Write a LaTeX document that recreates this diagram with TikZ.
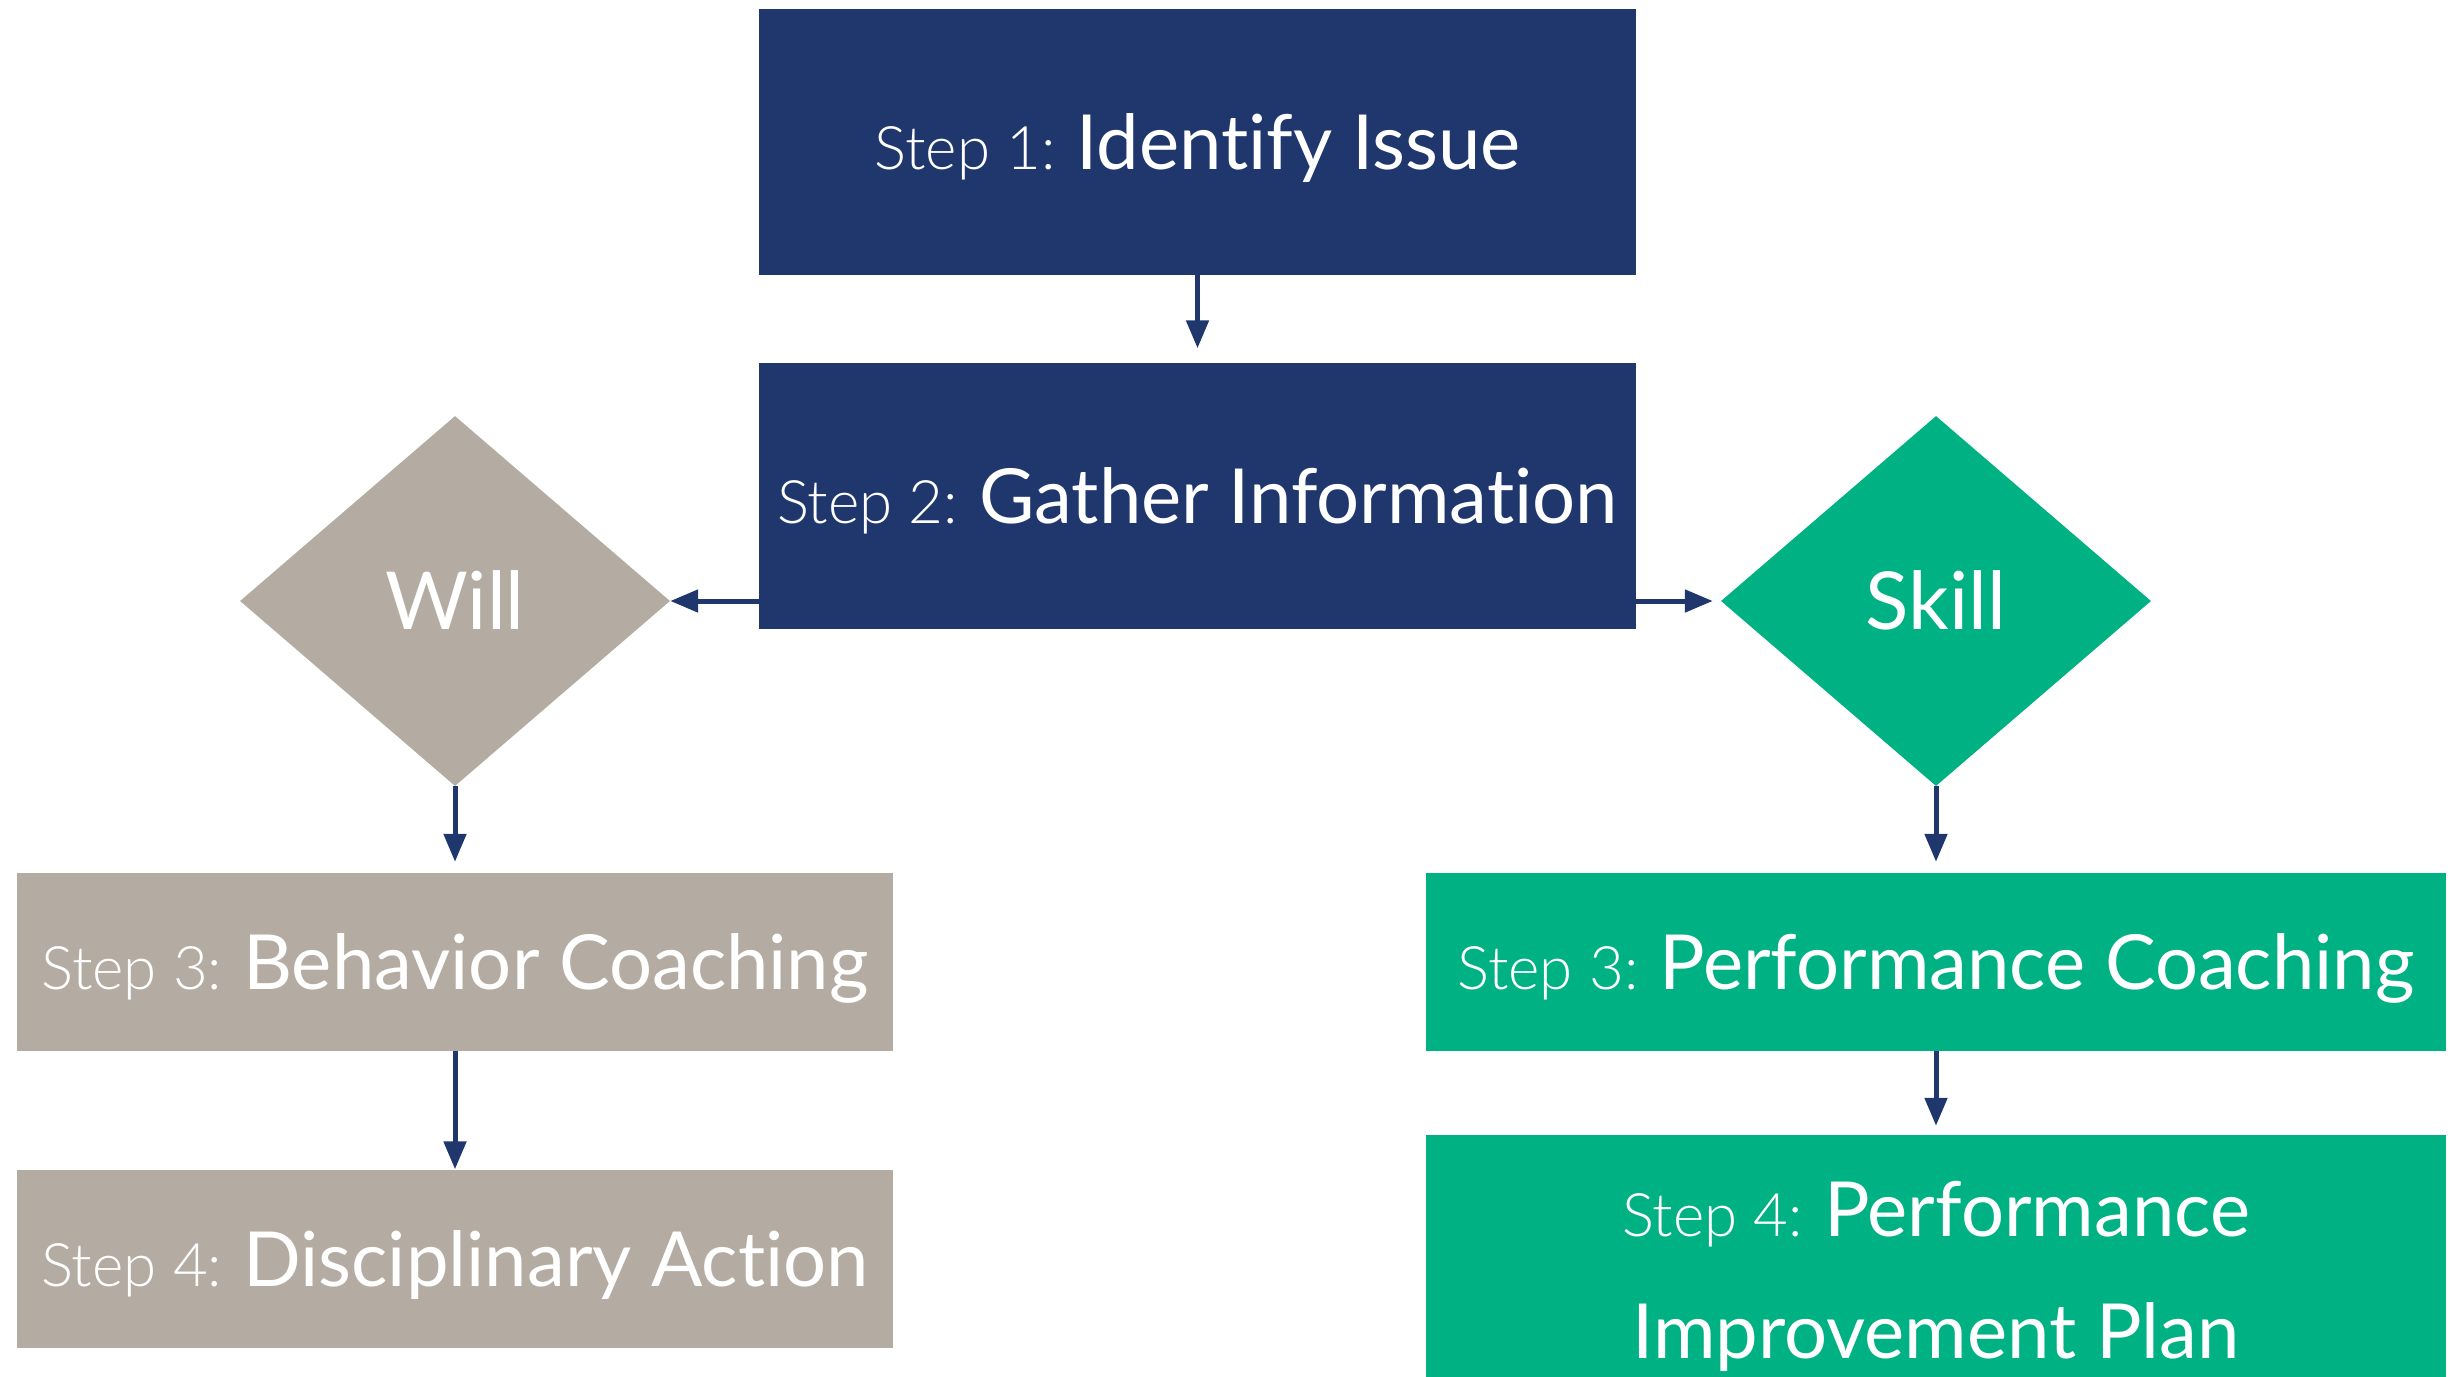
\documentclass[tikz,border=0pt]{standalone}
\usepackage{fontspec}
\defaultfontfeatures{Ligatures=NoCommon}
\setmainfont{Lato}
\newfontfamily\stepfont{Lato Light}
\usetikzlibrary{arrows.meta,shapes.geometric}

\definecolor{navyblue}{HTML}{1F376C}
\definecolor{taupe}{HTML}{B4ACA2}
\definecolor{skillgreen}{HTML}{00B184}

% smaller, lighter "Step n:" prefix followed by a narrow gap
\newcommand\stepno[1]{{\stepfont\fontsize{60}{70}\selectfont #1}\hspace{21pt}}

\begin{document}
\begin{tikzpicture}[x=1pt,y=-1pt,
  box/.style={rectangle, inner sep=0pt, text=white,
    font=\fontsize{76}{96}\selectfont, text height=55pt, text depth=0pt},
  navybox/.style={box, fill=navyblue, minimum width=877pt, minimum height=266pt},
  willbox/.style={box, fill=taupe, minimum width=876pt, minimum height=178pt},
  skillbox/.style={box, fill=skillgreen, minimum width=1020pt, minimum height=178pt},
  choice/.style={diamond, inner sep=0pt, text=white,
    font=\fontsize{80}{96}\selectfont, text height=57pt, text depth=0pt,
    minimum width=430pt, minimum height=370pt},
  textline/.style={inner sep=0pt, text=white,
    font=\fontsize{76}{96}\selectfont, text height=55pt, text depth=0pt},
  arr/.style={draw=navyblue, line width=5pt,
    -{Triangle[length=28pt,width=22pt]}, shorten >=0pt}
]
\clip (0,0) rectangle (2459,1376);
\useasboundingbox (0,0) rectangle (2459,1376);

% top column
\node[navybox] (s1) at (1197.5,141.5) {\stepno{Step 1:}Identify Issue};
\node[navybox] (s2) at (1197.5,495.5) {\stepno{Step 2:}Gather Information};

% decisions
\node[choice, fill=taupe] (will) at (455,601) {Will};
\node[choice, fill=skillgreen] (skill) at (1936,601) {Skill};

% will branch
\node[willbox] (b3) at (455,962) {\stepno{Step 3:}Behavior Coaching};
\node[willbox] (b4) at (455,1258.5) {\stepno{Step 4:}Disciplinary Action};

% skill branch
\node[skillbox] (p3) at (1936,962) {\stepno{Step 3:}Performance Coaching};
\node[skillbox, minimum height=300pt] (p4) at (1936,1285) {};
\node[textline] (p4a) at (1936,1209) {\stepno{Step 4:}Performance};
\node[textline] (p4b) at (1936,1331) {Improvement Plan};

% connectors
\draw[arr, shorten >=14pt] (s1) -- (s2);
\draw[arr] (s2.west |- will.center) -- (will.east);
\draw[arr, shorten >=8pt] (s2.east |- skill.center) -- (skill.west);
\draw[arr, shorten >=11pt] (will.south) -- (b3.north);
\draw[arr] (b3.south) -- (b4.north);
\draw[arr, shorten >=11pt] (skill.south) -- (p3.north);
\draw[arr, shorten >=9pt] (p3.south) -- (p4.north);
\end{tikzpicture}
\end{document}
